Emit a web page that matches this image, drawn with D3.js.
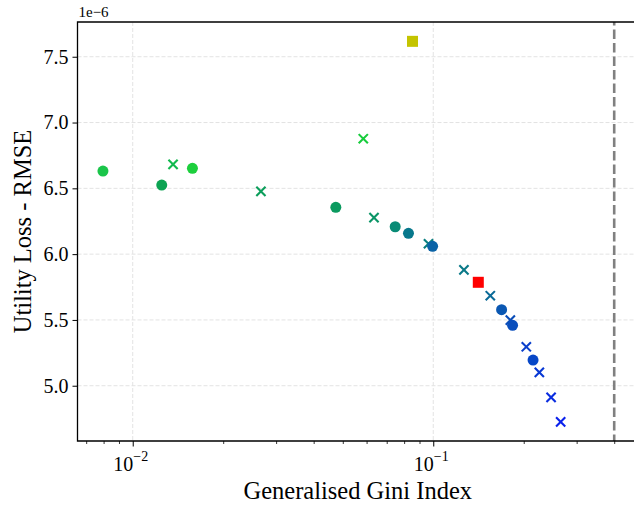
<!DOCTYPE html>
<html>
<head>
<meta charset="utf-8">
<script src="https://cdn.jsdelivr.net/npm/d3@7"></script>
<style>
  html, body { margin: 0; padding: 0; background: #fff; }
  svg { display: block; font-family: "Liberation Serif", "Times New Roman", serif; }
</style>
</head>
<body>
<svg id="chart" width="634" height="506"></svg>
<script>
// Gini index vs RMSE (values in units of 1e-6)
const circleGini = [0.00796, 0.01249, 0.0158, 0.0474, 0.0747, 0.0827, 0.0995, 0.1688, 0.1836, 0.2148];
const circleRmse = [6.631, 6.525, 6.652, 6.356, 6.208, 6.158, 6.059, 5.578, 5.459, 5.195];

const crossGini = [0.01362, 0.0267, 0.0585, 0.0635, 0.0964, 0.1265, 0.1548, 0.1805, 0.2040, 0.2254, 0.2466, 0.2654];
const crossRmse = [6.682, 6.477, 6.877, 6.277, 6.079, 5.881, 5.684, 5.499, 5.296, 5.102, 4.912, 4.726];

const squareGini = [0.0853, 0.1412];
const squareRmse = [7.617, 5.786];

const giniLimit = 0.4;

const yTicks = [5.0, 5.5, 6.0, 6.5, 7.0, 7.5];
const xMajorTicks = [0.01, 0.1];
const xMinorTicks = [0.007, 0.008, 0.009, 0.02, 0.03, 0.04, 0.05, 0.06, 0.07, 0.08, 0.09, 0.2, 0.3, 0.4];

// marker colours
const circleColours = ["#1ac54a", "#0ca352", "#1dcf3d", "#0b9a5f", "#098b76", "#08788c", "#0a63a6", "#0a57b2", "#0a4ebc", "#0747c7"];
const crossColours = ["#11b94e", "#0c9e5b", "#17cc3c", "#0a9566", "#0a7f80", "#0a7988", "#0a6a98", "#0a4db8", "#0a3fcb", "#0838d4", "#0a2de0", "#0a21ec"];
const squareColours = ["#c4c400", "#ff0000"];

const svg = d3.select("#chart");
const plotL = 77.5, plotT = 22, plotR = 638, plotB = 441;

const x = d3.scaleLog().domain([0.00655, 0.48]).range([plotL, plotR]);
const y = d3.scaleLinear().domain([4.58, 7.764]).range([plotB, plotT]);

const g = svg.append("g");

// grid
g.selectAll(".hgrid").data(yTicks).join("line")
  .attr("x1", plotL).attr("x2", plotR)
  .attr("y1", d => y(d)).attr("y2", d => y(d))
  .attr("stroke", "#e3e3e3").attr("stroke-width", 1).attr("stroke-dasharray", "4,2");
g.selectAll(".vgrid").data(xMajorTicks).join("line")
  .attr("x1", d => x(d)).attr("x2", d => x(d))
  .attr("y1", plotT).attr("y2", plotB)
  .attr("stroke", "#e3e3e3").attr("stroke-width", 1).attr("stroke-dasharray", "4,2");

// reference line
g.append("line")
  .attr("x1", x(giniLimit)).attr("x2", x(giniLimit))
  .attr("y1", plotT).attr("y2", plotB)
  .attr("stroke", "#808080").attr("stroke-width", 2.6)
  .attr("stroke-dasharray", "9.5,4").attr("stroke-dashoffset", 6);

// crosses
const cs = 4.6;
g.selectAll(".cross").data(crossGini).join("path")
  .attr("d", (d, i) => {
    const cx = x(d), cy = y(crossRmse[i]);
    return `M${cx - cs},${cy - cs}L${cx + cs},${cy + cs}M${cx - cs},${cy + cs}L${cx + cs},${cy - cs}`;
  })
  .attr("stroke", (d, i) => crossColours[i]).attr("stroke-width", 2.1).attr("fill", "none");

// circles
g.selectAll(".dot").data(circleGini).join("circle")
  .attr("cx", d => x(d)).attr("cy", (d, i) => y(circleRmse[i]))
  .attr("r", 5.5).attr("fill", (d, i) => circleColours[i]);

// squares
const sq = 11;
g.selectAll(".sq").data(squareGini).join("rect")
  .attr("x", d => x(d) - sq / 2).attr("y", (d, i) => y(squareRmse[i]) - sq / 2)
  .attr("width", sq).attr("height", sq).attr("fill", (d, i) => squareColours[i]);

// axes
const yAxis = d3.axisLeft(y).tickValues(yTicks).tickFormat(d3.format(".1f")).tickSize(5).tickPadding(4);
const ya = svg.append("g").attr("transform", `translate(${plotL},0)`).call(yAxis);
ya.select(".domain").remove();
ya.selectAll("line").attr("stroke", "#000").attr("stroke-width", 1);
ya.selectAll("text").attr("font-size", 20).attr("font-family", "Liberation Serif").attr("fill", "#000");

const xMinor = d3.axisBottom(x).tickValues(xMinorTicks).tickFormat("").tickSize(3);
const xm = svg.append("g").attr("transform", `translate(0,${plotB})`).call(xMinor);
xm.select(".domain").remove();
xm.selectAll("line").attr("stroke", "#000").attr("stroke-width", 0.8);

const xMajor = d3.axisBottom(x).tickValues(xMajorTicks).tickFormat("").tickSize(5.5);
const xM = svg.append("g").attr("transform", `translate(0,${plotB})`).call(xMajor);
xM.select(".domain").remove();
xM.selectAll("line").attr("stroke", "#000").attr("stroke-width", 1);

// power-of-ten labels
const xl = svg.append("g");
xMajorTicks.forEach(v => {
  const e = Math.round(Math.log10(v));
  const t = xl.append("text").attr("x", x(v) - 2).attr("y", 471)
    .attr("text-anchor", "middle").attr("font-size", 20).attr("fill", "#000");
  t.append("tspan").text("10");
  t.append("tspan").attr("font-size", 14).attr("dy", -10).text("\u2212" + Math.abs(e));
});

// spines
svg.append("path")
  .attr("d", `M${plotR},${plotT}H${plotL}V${plotB}H${plotR}`)
  .attr("fill", "none").attr("stroke", "#000").attr("stroke-width", 1.3);

// offset label
svg.append("text").attr("x", plotL + 1).attr("y", 17).attr("font-size", 15).attr("fill", "#000").text("1e\u22126");

// axis titles
svg.append("text").attr("x", (plotL + plotR) / 2).attr("y", 499)
  .attr("text-anchor", "middle").attr("font-size", 24.5).attr("fill", "#000")
  .text("Generalised Gini Index");
svg.append("text").attr("transform", `translate(31,${(plotT + plotB) / 2}) rotate(-90)`)
  .attr("text-anchor", "middle").attr("font-size", 24.5).attr("fill", "#000")
  .text("Utility Loss - RMSE");
</script>
</body>
</html>
